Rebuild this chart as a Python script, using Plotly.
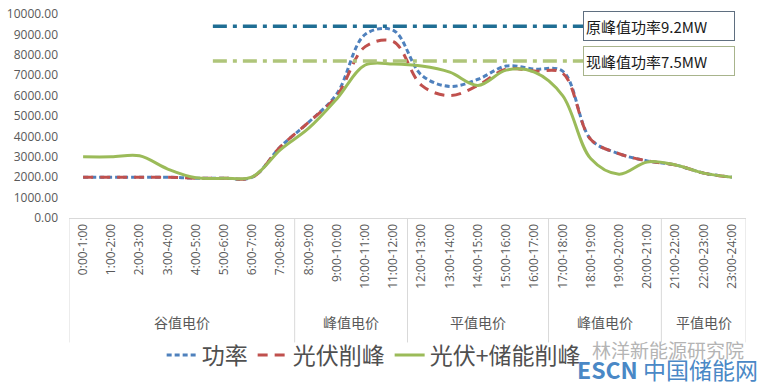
import plotly.graph_objects as go

CATS = ["0:00-1:00", "1:00-2:00", "2:00-3:00", "3:00-4:00", "4:00-5:00", "5:00-6:00",
        "6:00-7:00", "7:00-8:00", "8:00-9:00", "9:00-10:00", "10:00-11:00", "11:00-12:00",
        "12:00-13:00", "13:00-14:00", "14:00-15:00", "15:00-16:00", "16:00-17:00",
        "17:00-18:00", "18:00-19:00", "19:00-20:00", "20:00-21:00", "21:00-22:00",
        "22:00-23:00", "23:00-24:00"]
POWER = [2000, 2000, 2000, 2000, 1950, 1950, 2000, 3500, 4700, 6100, 9000, 9200,
         7000, 6450, 6800, 7450, 7300, 7200, 3850, 3150, 2800, 2600, 2200, 2000]
PV_SHAVE = [2000, 2000, 2000, 2000, 1950, 1950, 2000, 3500, 4700, 6000, 8400, 8650,
            6500, 6000, 6500, 7300, 7200, 7100, 3850, 3150, 2800, 2600, 2200, 2000]
PV_STORAGE = [3000, 3000, 3050, 2400, 1970, 1950, 2020, 3350, 4400, 5850, 7500, 7550,
              7450, 7150, 6500, 7250, 7150, 6000, 2900, 2150, 2750, 2600, 2200, 2000]
GROUPS = ["谷值电价", "峰值电价", "平值电价", "峰值电价", "平值电价"]
GROUP_SIZES = [8, 4, 5, 4, 3]
SERIES_NAMES = ["功率", "光伏削峰", "光伏+储能削峰"]
REF_VALUES = [9400, 7700]
REF_LABELS = ["原峰值功率9.2MW", "现峰值功率7.5MW"]
REF_X = [4.6, 18.0]

x = list(range(len(CATS)))
GREY = "#595959"
LINEC = "#D9D9D9"

fig = go.Figure()
fig.add_trace(go.Scatter(x=x, y=POWER, name=SERIES_NAMES[0], mode="lines",
                         line=dict(color="#4F81BD", width=3, dash="5px,3px",
                                   shape="spline", smoothing=1.0)))
fig.add_trace(go.Scatter(x=x, y=PV_SHAVE, name=SERIES_NAMES[1], mode="lines",
                         line=dict(color="#C0504D", width=3, dash="10px,7px",
                                   shape="spline", smoothing=1.0)))
fig.add_trace(go.Scatter(x=x, y=PV_STORAGE, name=SERIES_NAMES[2], mode="lines",
                         line=dict(color="#9BBB59", width=3,
                                   shape="spline", smoothing=1.0)))

# reference peak lines
ref_colors = ["#1F6E94", "#AFC57A"]
for val, col in zip(REF_VALUES, ref_colors):
    fig.add_trace(go.Scatter(x=REF_X, y=[val, val], mode="lines", showlegend=False,
                             hoverinfo="skip",
                             line=dict(color=col, width=3.5, dash="14px,6px,4px,6px")))

# boxes
box_borders = ["#5F6F80", "#A8B48C"]
for val, lab, bc in zip(REF_VALUES, REF_LABELS, box_borders):
    fig.add_annotation(x=17.73, y=val, xref="x", yref="y", text=lab, showarrow=False,
                       xanchor="left", yanchor="middle", width=146, height=24,
                       align="left", bgcolor="white", bordercolor=bc, borderwidth=1,
                       borderpad=2, font=dict(size=15, color="#1a1a1a",
                                              family="Noto Sans CJK SC"))

# group dividers and labels
shapes = []
start = 0
bottom = -0.61
shapes.append(dict(type="line", xref="x", yref="paper", x0=-0.5, x1=-0.5,
                   y0=0, y1=bottom, line=dict(color=LINEC, width=1)))
for g, n in zip(GROUPS, GROUP_SIZES):
    end = start + n
    shapes.append(dict(type="line", xref="x", yref="paper", x0=end - 0.5, x1=end - 0.5,
                       y0=0, y1=bottom, line=dict(color=LINEC, width=1)))
    fig.add_annotation(x=(start + end - 1) / 2, y=-0.51, xref="x", yref="paper",
                       text=g, showarrow=False, yanchor="middle",
                       font=dict(size=14, color=GREY, family="Noto Sans CJK SC"))
    start = end

fig.update_layout(
    width=764, height=382,
    margin=dict(l=69, r=18, t=14, b=164, autoexpand=False),
    paper_bgcolor="white", plot_bgcolor="white",
    shapes=shapes,
    showlegend=True,
    legend=dict(orientation="h", x=0.45, xanchor="center", y=-0.672, yanchor="middle",
                font=dict(size=23, color="#505050", family="Noto Sans CJK SC"),
                tracegroupgap=0, bgcolor="rgba(0,0,0,0)"),
    font=dict(family="Noto Sans CJK SC", color=GREY),
)

# watermark text (drawn above legend)
fig.add_annotation(x=1.0, y=-0.643, xref="paper", yref="paper", text="林洋新能源研究院",
                   showarrow=False, xanchor="right", yanchor="middle",
                   font=dict(size=19, color="#b4b4b4", family="Noto Sans CJK SC"))
fig.add_annotation(x=1.02, y=-0.74, xref="paper", yref="paper",
                   text="<b>ESCN</b> 中国储能网",
                   showarrow=False, xanchor="right", yanchor="middle",
                   font=dict(size=23, color="#4A88C6", family="Noto Sans CJK SC"))

fig.update_xaxes(range=[-0.5, len(CATS) - 0.5], tickmode="array", tickvals=x,
                 ticktext=CATS, tickangle=-90, showgrid=False, zeroline=False,
                 showline=True, linecolor=LINEC, linewidth=1, ticks="", automargin=False,
                 tickfont=dict(size=12, color=GREY, family="Open Sans"))
fig.update_yaxes(range=[0, 10000], dtick=1000, tickformat=".2f", showgrid=False,
                 zeroline=False, showline=False, ticks="", ticklabelstandoff=10,
                 automargin=False,
                 tickfont=dict(size=12, color=GREY, family="Open Sans"))

fig.write_html("out.html", config={"displayModeBar": False},
               post_script="document.body.style.margin='0';")
